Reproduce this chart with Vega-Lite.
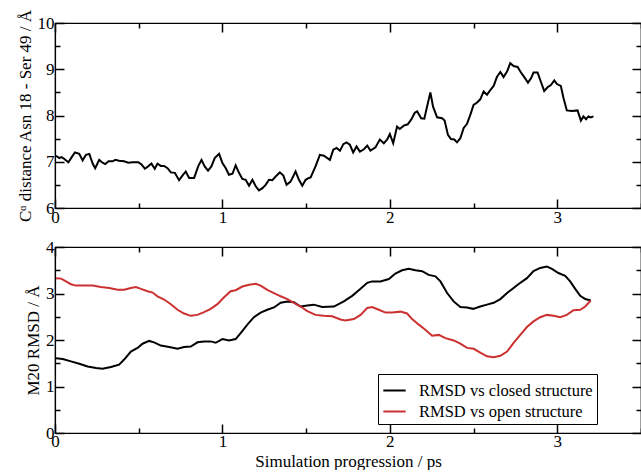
{
  "$schema": "https://vega.github.io/schema/vega-lite/v6.json",
  "background": "white",
  "padding": {"left": 15, "top": 8, "right": 0, "bottom": 0},
  "spacing": 7,
  "datasets": {
    "top": [
      {"t":0.006,"d":7.13},{"t":0.026,"d":7.08},{"t":0.04,"d":7.10},{"t":0.056,"d":7.06},{"t":0.08,"d":6.99},
      {"t":0.1,"d":7.10},{"t":0.119,"d":7.20},{"t":0.145,"d":7.17},{"t":0.165,"d":7.03},{"t":0.185,"d":7.15},
      {"t":0.205,"d":7.17},{"t":0.225,"d":6.96},{"t":0.24,"d":6.86},{"t":0.264,"d":7.04},{"t":0.284,"d":6.98},
      {"t":0.3,"d":6.95},{"t":0.32,"d":7.01},{"t":0.344,"d":7.01},{"t":0.36,"d":7.04},{"t":0.383,"d":7.02},
      {"t":0.413,"d":7.01},{"t":0.437,"d":6.98},{"t":0.463,"d":6.99},{"t":0.497,"d":6.99},{"t":0.517,"d":6.94},
      {"t":0.537,"d":6.85},{"t":0.556,"d":6.90},{"t":0.576,"d":6.96},{"t":0.596,"d":6.85},{"t":0.612,"d":6.96},
      {"t":0.632,"d":6.91},{"t":0.652,"d":6.91},{"t":0.672,"d":6.86},{"t":0.692,"d":6.77},{"t":0.716,"d":6.76},
      {"t":0.741,"d":6.60},{"t":0.761,"d":6.70},{"t":0.781,"d":6.79},{"t":0.801,"d":6.65},{"t":0.831,"d":6.65},
      {"t":0.855,"d":6.90},{"t":0.875,"d":7.04},{"t":0.894,"d":6.90},{"t":0.914,"d":6.81},{"t":0.934,"d":6.90},
      {"t":0.954,"d":7.08},{"t":0.98,"d":7.17},{"t":1.0,"d":6.97},{"t":1.02,"d":6.86},{"t":1.039,"d":6.72},
      {"t":1.06,"d":6.74},{"t":1.079,"d":6.92},{"t":1.099,"d":6.76},{"t":1.119,"d":6.63},{"t":1.139,"d":6.61},
      {"t":1.159,"d":6.48},{"t":1.179,"d":6.61},{"t":1.199,"d":6.47},{"t":1.218,"d":6.38},{"t":1.239,"d":6.43},
      {"t":1.258,"d":6.50},{"t":1.278,"d":6.61},{"t":1.298,"d":6.60},{"t":1.318,"d":6.68},{"t":1.343,"d":6.77},
      {"t":1.364,"d":6.70},{"t":1.383,"d":6.50},{"t":1.407,"d":6.57},{"t":1.437,"d":6.79},{"t":1.457,"d":6.61},
      {"t":1.477,"d":6.48},{"t":1.497,"d":6.61},{"t":1.516,"d":6.65},{"t":1.527,"d":6.66},{"t":1.556,"d":6.90},
      {"t":1.582,"d":7.15},{"t":1.606,"d":7.13},{"t":1.642,"d":7.04},{"t":1.662,"d":7.26},{"t":1.682,"d":7.30},
      {"t":1.702,"d":7.24},{"t":1.722,"d":7.38},{"t":1.741,"d":7.42},{"t":1.761,"d":7.37},{"t":1.781,"d":7.20},
      {"t":1.801,"d":7.33},{"t":1.821,"d":7.22},{"t":1.845,"d":7.27},{"t":1.865,"d":7.35},{"t":1.884,"d":7.24},
      {"t":1.914,"d":7.31},{"t":1.94,"d":7.48},{"t":1.964,"d":7.40},{"t":1.984,"d":7.48},{"t":2.0,"d":7.60},
      {"t":2.02,"d":7.40},{"t":2.043,"d":7.76},{"t":2.059,"d":7.71},{"t":2.083,"d":7.78},{"t":2.107,"d":7.81},
      {"t":2.129,"d":7.92},{"t":2.149,"d":8.06},{"t":2.163,"d":8.09},{"t":2.187,"d":7.94},{"t":2.206,"d":7.93},
      {"t":2.222,"d":8.19},{"t":2.242,"d":8.50},{"t":2.258,"d":8.19},{"t":2.282,"d":7.96},{"t":2.312,"d":7.94},
      {"t":2.327,"d":7.89},{"t":2.347,"d":7.58},{"t":2.365,"d":7.49},{"t":2.385,"d":7.48},{"t":2.401,"d":7.42},
      {"t":2.421,"d":7.51},{"t":2.441,"d":7.73},{"t":2.461,"d":7.82},{"t":2.481,"d":8.02},{"t":2.5,"d":8.23},
      {"t":2.521,"d":8.28},{"t":2.54,"d":8.35},{"t":2.56,"d":8.52},{"t":2.58,"d":8.45},{"t":2.6,"d":8.55},
      {"t":2.62,"d":8.64},{"t":2.64,"d":8.84},{"t":2.66,"d":8.94},{"t":2.679,"d":8.83},{"t":2.7,"d":8.95},
      {"t":2.719,"d":9.13},{"t":2.739,"d":9.07},{"t":2.763,"d":9.05},{"t":2.783,"d":8.93},{"t":2.803,"d":8.83},
      {"t":2.825,"d":8.71},{"t":2.844,"d":8.81},{"t":2.858,"d":8.93},{"t":2.882,"d":8.93},{"t":2.902,"d":8.73},
      {"t":2.922,"d":8.53},{"t":2.942,"d":8.61},{"t":2.962,"d":8.66},{"t":2.982,"d":8.76},{"t":2.998,"d":8.68},
      {"t":3.021,"d":8.64},{"t":3.037,"d":8.38},{"t":3.057,"d":8.11},{"t":3.087,"d":8.10},{"t":3.121,"d":8.11},
      {"t":3.141,"d":7.89},{"t":3.156,"d":7.98},{"t":3.172,"d":7.92},{"t":3.186,"d":7.98},{"t":3.2,"d":7.96},
      {"t":3.216,"d":7.98}
    ],
    "bottom": [
      {"t":0.006,"r":1.61,"s":"RMSD vs closed structure"},{"t":0.046,"r":1.59,"s":"RMSD vs closed structure"},
      {"t":0.095,"r":1.54,"s":"RMSD vs closed structure"},{"t":0.145,"r":1.49,"s":"RMSD vs closed structure"},
      {"t":0.195,"r":1.43,"s":"RMSD vs closed structure"},{"t":0.245,"r":1.40,"s":"RMSD vs closed structure"},
      {"t":0.284,"r":1.38,"s":"RMSD vs closed structure"},{"t":0.334,"r":1.42,"s":"RMSD vs closed structure"},
      {"t":0.383,"r":1.47,"s":"RMSD vs closed structure"},{"t":0.413,"r":1.58,"s":"RMSD vs closed structure"},
      {"t":0.453,"r":1.75,"s":"RMSD vs closed structure"},{"t":0.493,"r":1.83,"s":"RMSD vs closed structure"},
      {"t":0.523,"r":1.92,"s":"RMSD vs closed structure"},{"t":0.562,"r":1.98,"s":"RMSD vs closed structure"},
      {"t":0.592,"r":1.95,"s":"RMSD vs closed structure"},{"t":0.632,"r":1.88,"s":"RMSD vs closed structure"},
      {"t":0.682,"r":1.85,"s":"RMSD vs closed structure"},{"t":0.732,"r":1.81,"s":"RMSD vs closed structure"},
      {"t":0.771,"r":1.85,"s":"RMSD vs closed structure"},{"t":0.811,"r":1.86,"s":"RMSD vs closed structure"},
      {"t":0.851,"r":1.95,"s":"RMSD vs closed structure"},{"t":0.89,"r":1.97,"s":"RMSD vs closed structure"},
      {"t":0.93,"r":1.97,"s":"RMSD vs closed structure"},{"t":0.96,"r":1.94,"s":"RMSD vs closed structure"},
      {"t":1.0,"r":2.02,"s":"RMSD vs closed structure"},{"t":1.039,"r":1.99,"s":"RMSD vs closed structure"},
      {"t":1.079,"r":2.02,"s":"RMSD vs closed structure"},{"t":1.109,"r":2.15,"s":"RMSD vs closed structure"},
      {"t":1.149,"r":2.33,"s":"RMSD vs closed structure"},{"t":1.188,"r":2.49,"s":"RMSD vs closed structure"},
      {"t":1.228,"r":2.59,"s":"RMSD vs closed structure"},{"t":1.268,"r":2.65,"s":"RMSD vs closed structure"},
      {"t":1.308,"r":2.70,"s":"RMSD vs closed structure"},{"t":1.348,"r":2.80,"s":"RMSD vs closed structure"},
      {"t":1.388,"r":2.83,"s":"RMSD vs closed structure"},{"t":1.427,"r":2.81,"s":"RMSD vs closed structure"},
      {"t":1.467,"r":2.72,"s":"RMSD vs closed structure"},{"t":1.507,"r":2.74,"s":"RMSD vs closed structure"},
      {"t":1.546,"r":2.76,"s":"RMSD vs closed structure"},{"t":1.596,"r":2.71,"s":"RMSD vs closed structure"},
      {"t":1.666,"r":2.72,"s":"RMSD vs closed structure"},{"t":1.725,"r":2.83,"s":"RMSD vs closed structure"},
      {"t":1.775,"r":2.95,"s":"RMSD vs closed structure"},{"t":1.825,"r":3.10,"s":"RMSD vs closed structure"},
      {"t":1.865,"r":3.23,"s":"RMSD vs closed structure"},{"t":1.894,"r":3.26,"s":"RMSD vs closed structure"},
      {"t":1.944,"r":3.26,"s":"RMSD vs closed structure"},{"t":1.994,"r":3.31,"s":"RMSD vs closed structure"},
      {"t":2.033,"r":3.43,"s":"RMSD vs closed structure"},{"t":2.073,"r":3.50,"s":"RMSD vs closed structure"},
      {"t":2.113,"r":3.53,"s":"RMSD vs closed structure"},{"t":2.153,"r":3.50,"s":"RMSD vs closed structure"},
      {"t":2.193,"r":3.48,"s":"RMSD vs closed structure"},{"t":2.232,"r":3.40,"s":"RMSD vs closed structure"},
      {"t":2.272,"r":3.37,"s":"RMSD vs closed structure"},{"t":2.302,"r":3.26,"s":"RMSD vs closed structure"},
      {"t":2.342,"r":3.01,"s":"RMSD vs closed structure"},{"t":2.381,"r":2.83,"s":"RMSD vs closed structure"},
      {"t":2.421,"r":2.71,"s":"RMSD vs closed structure"},{"t":2.461,"r":2.70,"s":"RMSD vs closed structure"},
      {"t":2.497,"r":2.67,"s":"RMSD vs closed structure"},{"t":2.54,"r":2.72,"s":"RMSD vs closed structure"},
      {"t":2.58,"r":2.76,"s":"RMSD vs closed structure"},{"t":2.62,"r":2.80,"s":"RMSD vs closed structure"},
      {"t":2.66,"r":2.88,"s":"RMSD vs closed structure"},{"t":2.7,"r":3.01,"s":"RMSD vs closed structure"},
      {"t":2.739,"r":3.12,"s":"RMSD vs closed structure"},{"t":2.779,"r":3.23,"s":"RMSD vs closed structure"},
      {"t":2.819,"r":3.33,"s":"RMSD vs closed structure"},{"t":2.858,"r":3.48,"s":"RMSD vs closed structure"},
      {"t":2.898,"r":3.55,"s":"RMSD vs closed structure"},{"t":2.938,"r":3.58,"s":"RMSD vs closed structure"},
      {"t":2.968,"r":3.53,"s":"RMSD vs closed structure"},{"t":3.007,"r":3.44,"s":"RMSD vs closed structure"},
      {"t":3.047,"r":3.38,"s":"RMSD vs closed structure"},{"t":3.077,"r":3.26,"s":"RMSD vs closed structure"},
      {"t":3.107,"r":3.10,"s":"RMSD vs closed structure"},{"t":3.137,"r":2.95,"s":"RMSD vs closed structure"},
      {"t":3.167,"r":2.88,"s":"RMSD vs closed structure"},{"t":3.2,"r":2.85,"s":"RMSD vs closed structure"},
      {"t":0.006,"r":3.33,"s":"RMSD vs open structure"},{"t":0.036,"r":3.32,"s":"RMSD vs open structure"},
      {"t":0.066,"r":3.26,"s":"RMSD vs open structure"},{"t":0.095,"r":3.20,"s":"RMSD vs open structure"},
      {"t":0.125,"r":3.17,"s":"RMSD vs open structure"},{"t":0.175,"r":3.17,"s":"RMSD vs open structure"},
      {"t":0.225,"r":3.17,"s":"RMSD vs open structure"},{"t":0.274,"r":3.14,"s":"RMSD vs open structure"},
      {"t":0.324,"r":3.12,"s":"RMSD vs open structure"},{"t":0.374,"r":3.08,"s":"RMSD vs open structure"},
      {"t":0.413,"r":3.08,"s":"RMSD vs open structure"},{"t":0.453,"r":3.12,"s":"RMSD vs open structure"},
      {"t":0.483,"r":3.14,"s":"RMSD vs open structure"},{"t":0.513,"r":3.10,"s":"RMSD vs open structure"},
      {"t":0.553,"r":3.05,"s":"RMSD vs open structure"},{"t":0.583,"r":3.02,"s":"RMSD vs open structure"},
      {"t":0.612,"r":2.94,"s":"RMSD vs open structure"},{"t":0.652,"r":2.87,"s":"RMSD vs open structure"},
      {"t":0.692,"r":2.77,"s":"RMSD vs open structure"},{"t":0.732,"r":2.65,"s":"RMSD vs open structure"},
      {"t":0.771,"r":2.57,"s":"RMSD vs open structure"},{"t":0.811,"r":2.52,"s":"RMSD vs open structure"},
      {"t":0.851,"r":2.54,"s":"RMSD vs open structure"},{"t":0.89,"r":2.60,"s":"RMSD vs open structure"},
      {"t":0.93,"r":2.67,"s":"RMSD vs open structure"},{"t":0.97,"r":2.77,"s":"RMSD vs open structure"},
      {"t":1.01,"r":2.92,"s":"RMSD vs open structure"},{"t":1.049,"r":3.05,"s":"RMSD vs open structure"},
      {"t":1.079,"r":3.07,"s":"RMSD vs open structure"},{"t":1.119,"r":3.15,"s":"RMSD vs open structure"},
      {"t":1.159,"r":3.19,"s":"RMSD vs open structure"},{"t":1.199,"r":3.21,"s":"RMSD vs open structure"},
      {"t":1.228,"r":3.17,"s":"RMSD vs open structure"},{"t":1.268,"r":3.08,"s":"RMSD vs open structure"},
      {"t":1.308,"r":3.01,"s":"RMSD vs open structure"},{"t":1.348,"r":2.94,"s":"RMSD vs open structure"},
      {"t":1.388,"r":2.88,"s":"RMSD vs open structure"},{"t":1.427,"r":2.80,"s":"RMSD vs open structure"},
      {"t":1.467,"r":2.72,"s":"RMSD vs open structure"},{"t":1.507,"r":2.62,"s":"RMSD vs open structure"},
      {"t":1.556,"r":2.54,"s":"RMSD vs open structure"},{"t":1.606,"r":2.52,"s":"RMSD vs open structure"},
      {"t":1.656,"r":2.51,"s":"RMSD vs open structure"},{"t":1.705,"r":2.44,"s":"RMSD vs open structure"},
      {"t":1.735,"r":2.42,"s":"RMSD vs open structure"},{"t":1.785,"r":2.45,"s":"RMSD vs open structure"},
      {"t":1.825,"r":2.54,"s":"RMSD vs open structure"},{"t":1.865,"r":2.69,"s":"RMSD vs open structure"},
      {"t":1.894,"r":2.71,"s":"RMSD vs open structure"},{"t":1.934,"r":2.65,"s":"RMSD vs open structure"},
      {"t":1.974,"r":2.59,"s":"RMSD vs open structure"},{"t":2.014,"r":2.59,"s":"RMSD vs open structure"},
      {"t":2.063,"r":2.61,"s":"RMSD vs open structure"},{"t":2.103,"r":2.57,"s":"RMSD vs open structure"},
      {"t":2.133,"r":2.45,"s":"RMSD vs open structure"},{"t":2.173,"r":2.33,"s":"RMSD vs open structure"},
      {"t":2.212,"r":2.22,"s":"RMSD vs open structure"},{"t":2.252,"r":2.09,"s":"RMSD vs open structure"},
      {"t":2.292,"r":2.11,"s":"RMSD vs open structure"},{"t":2.332,"r":2.04,"s":"RMSD vs open structure"},
      {"t":2.381,"r":1.99,"s":"RMSD vs open structure"},{"t":2.421,"r":1.92,"s":"RMSD vs open structure"},
      {"t":2.461,"r":1.83,"s":"RMSD vs open structure"},{"t":2.501,"r":1.81,"s":"RMSD vs open structure"},
      {"t":2.54,"r":1.73,"s":"RMSD vs open structure"},{"t":2.58,"r":1.65,"s":"RMSD vs open structure"},
      {"t":2.62,"r":1.63,"s":"RMSD vs open structure"},{"t":2.66,"r":1.66,"s":"RMSD vs open structure"},
      {"t":2.7,"r":1.75,"s":"RMSD vs open structure"},{"t":2.739,"r":1.94,"s":"RMSD vs open structure"},
      {"t":2.779,"r":2.11,"s":"RMSD vs open structure"},{"t":2.819,"r":2.28,"s":"RMSD vs open structure"},
      {"t":2.858,"r":2.40,"s":"RMSD vs open structure"},{"t":2.898,"r":2.49,"s":"RMSD vs open structure"},
      {"t":2.938,"r":2.54,"s":"RMSD vs open structure"},{"t":2.978,"r":2.52,"s":"RMSD vs open structure"},
      {"t":3.017,"r":2.49,"s":"RMSD vs open structure"},{"t":3.057,"r":2.54,"s":"RMSD vs open structure"},
      {"t":3.097,"r":2.64,"s":"RMSD vs open structure"},{"t":3.137,"r":2.65,"s":"RMSD vs open structure"},
      {"t":3.167,"r":2.72,"s":"RMSD vs open structure"},{"t":3.2,"r":2.85,"s":"RMSD vs open structure"}
    ]
  },
  "vconcat": [
    {
      "width": 586,
      "height": 185,
      "data": {"name": "top"},
      "layer": [
        {
          "mark": {"type": "line", "color": "black", "strokeWidth": 2},
          "encoding": {
            "x": {"field": "t", "type": "quantitative", "scale": {"domain": [0, 3.5], "nice": false},
              "axis": {"orient": "bottom", "title": null, "values": [0,0.5,1,1.5,2,2.5,3,3.5],
                "labelExpr": "datum.value % 1 === 0 ? '' + datum.value : ''",
                "tickSize": {"condition": {"test": "datum.value % 1 === 0", "value": -9}, "value": -5}}},
            "y": {"field": "d", "type": "quantitative", "scale": {"domain": [6, 10], "nice": false},
              "axis": {"orient": "left", "title": "Cᵅ distance Asn 18 - Ser 49 / Å", "values": [6,6.5,7,7.5,8,8.5,9,9.5,10],
                "labelExpr": "datum.value % 1 === 0 ? '' + datum.value : ''",
                "tickSize": {"condition": {"test": "datum.value % 1 === 0", "value": -9}, "value": -5}}}
          }
        },
        {
          "mark": {"type": "line", "opacity": 0},
          "encoding": {
            "x": {"field": "t", "type": "quantitative",
              "axis": {"orient": "top", "title": null, "labels": false, "values": [0,0.5,1,1.5,2,2.5,3,3.5],
                "tickSize": {"condition": {"test": "datum.value % 1 === 0", "value": -9}, "value": -5}}},
            "y": {"field": "d", "type": "quantitative",
              "axis": {"orient": "right", "title": null, "labels": false, "values": [6,6.5,7,7.5,8,8.5,9,9.5,10],
                "tickSize": {"condition": {"test": "datum.value % 1 === 0", "value": -9}, "value": -5}}}
          }
        }
      ],
      "resolve": {"axis": {"x": "independent", "y": "independent"}}
    },
    {
      "width": 586,
      "height": 186,
      "data": {"name": "bottom"},
      "layer": [
        {
          "mark": {"type": "line", "strokeWidth": 2},
          "encoding": {
            "x": {"field": "t", "type": "quantitative", "scale": {"domain": [0, 3.5], "nice": false},
              "axis": {"orient": "bottom", "title": "Simulation progression / ps", "values": [0,0.5,1,1.5,2,2.5,3,3.5],
                "labelExpr": "datum.value % 1 === 0 ? '' + datum.value : ''",
                "labelPadding": 9, "titlePadding": 0,
                "tickSize": {"condition": {"test": "datum.value % 1 === 0", "value": -9}, "value": -5}}},
            "y": {"field": "r", "type": "quantitative", "scale": {"domain": [0, 4], "nice": false},
              "axis": {"orient": "left", "title": "M20 RMSD / Å", "values": [0,0.5,1,1.5,2,2.5,3,3.5,4],
                "labelExpr": "datum.value % 1 === 0 ? '' + datum.value : ''",
                "tickSize": {"condition": {"test": "datum.value % 1 === 0", "value": -9}, "value": -5}}},
            "color": {"field": "s", "type": "nominal",
              "scale": {"domain": ["RMSD vs closed structure", "RMSD vs open structure"], "range": ["black", "#cc3030"]},
              "legend": {"title": null, "orient": "none", "legendX": 323, "legendY": 351}}
          }
        },
        {
          "mark": {"type": "line", "opacity": 0},
          "encoding": {
            "detail": {"field": "s"},
            "x": {"field": "t", "type": "quantitative",
              "axis": {"orient": "top", "title": null, "labels": false, "values": [0,0.5,1,1.5,2,2.5,3,3.5],
                "tickSize": {"condition": {"test": "datum.value % 1 === 0", "value": -9}, "value": -5}}},
            "y": {"field": "r", "type": "quantitative",
              "axis": {"orient": "right", "title": null, "labels": false, "values": [0,0.5,1,1.5,2,2.5,3,3.5,4],
                "tickSize": {"condition": {"test": "datum.value % 1 === 0", "value": -9}, "value": -5}}}
          }
        }
      ],
      "resolve": {"axis": {"x": "independent", "y": "independent"}}
    }
  ],
  "config": {
    "font": "Liberation Serif",
    "view": {"stroke": "black", "strokeWidth": 1.2},
    "axis": {
      "grid": false,
      "domainColor": "black",
      "domainWidth": 1.2,
      "tickColor": "black",
      "tickWidth": 1.5,
      "labelFont": "Liberation Serif",
      "labelFontSize": 17,
      "labelColor": "black",
      "labelPadding": 10,
      "labelFlush": false,
      "labelOverlap": false,
      "titleFont": "Liberation Serif",
      "titleFontSize": 17,
      "titleFontWeight": "normal",
      "titleColor": "black",
      "titlePadding": 3
    },
    "legend": {
      "strokeColor": "black",
      "fillColor": "white",
      "padding": 4,
      "symbolType": "stroke",
      "symbolSize": 500,
      "symbolStrokeWidth": 2,
      "labelFont": "Liberation Serif",
      "labelFontSize": 16.5,
      "labelColor": "black",
      "labelOffset": 12,
      "labelLimit": 300,
      "rowPadding": -4
    }
  }
}
